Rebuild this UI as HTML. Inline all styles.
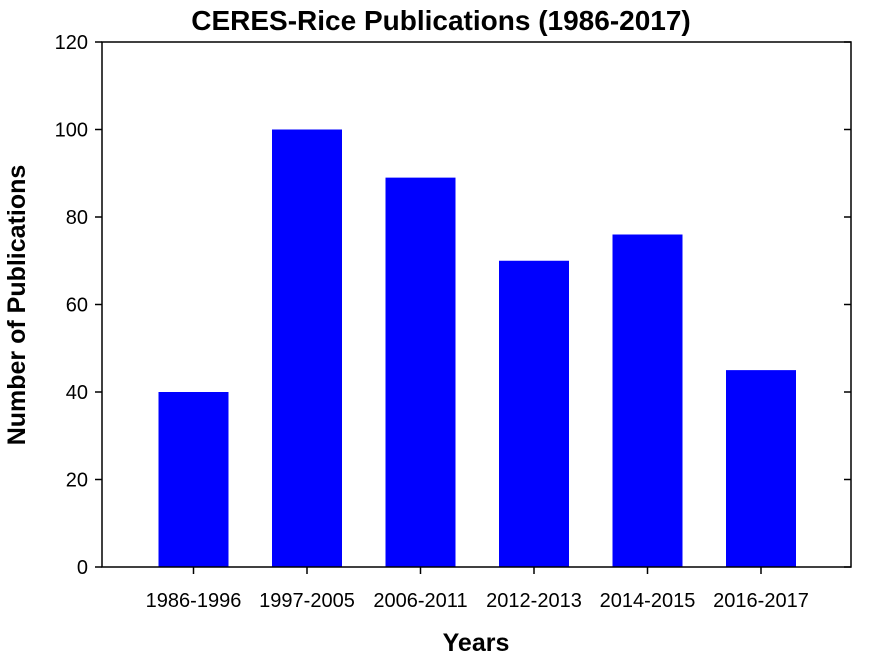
<!DOCTYPE html>
<html><head><meta charset="utf-8"><style>body{margin:0;background:#fff}svg{display:block;font-family:"Liberation Sans",Arial,sans-serif}</style></head>
<body>
<svg width="892" height="659" viewBox="0 0 892 659" xmlns="http://www.w3.org/2000/svg">
<text x="441" y="30" text-anchor="middle" font-size="28" font-weight="bold">CERES-Rice Publications (1986-2017)</text>
<g id="plot"></g>
<text x="476" y="651" text-anchor="middle" font-size="25" font-weight="bold">Years</text>
<text transform="translate(25,305) rotate(-90)" text-anchor="middle" font-size="25" font-weight="bold">Number of Publications</text>
</svg>
<script>
const categories=["1986-1996","1997-2005","2006-2011","2012-2013","2014-2015","2016-2017"];
const values=[40,100,89,70,76,45];
const yTicks=[0,20,40,60,80,100,120];
const L=102,R=851,T=42,B=567,yMax=120;
const y=v=>B-(B-T)*v/yMax;
const x=i=>193.5+113.5*i;
const g=document.getElementById('plot');
const NS="http://www.w3.org/2000/svg";
function mk(t,a){const e=document.createElementNS(NS,t);for(const k in a)e.setAttribute(k,a[k]);g.appendChild(e);return e;}
values.forEach((v,i)=>{
 const r=mk('rect',{x:x(i)-35,y:y(v),width:70,height:B-y(v),fill:'#0000ff'});
 
 
 const tk=mk('line',{x1:x(i),x2:x(i),y1:B,y2:B+7,stroke:'#000','stroke-width':1.5});
 
 
 const t=mk('text',{x:x(i),y:607,'text-anchor':'middle','font-size':20});
 t.textContent=categories[i];
 
 
});
yTicks.forEach(v=>{
 const a=mk('line',{x1:L-7,x2:L,y1:y(v),y2:y(v),stroke:'#000','stroke-width':1.5});
 
 
 const b=mk('line',{x1:R-7,x2:R,y1:y(v),y2:y(v),stroke:'#000','stroke-width':1.5});
 
 
 const t=mk('text',{x:L-14,y:y(v)+7,'text-anchor':'end','font-size':20});
 t.textContent=v;
 
 
});
const f=mk('rect',{x:L,y:T,width:R-L,height:B-T,fill:'none',stroke:'#000','stroke-width':1.5});


</script>
</body></html>
